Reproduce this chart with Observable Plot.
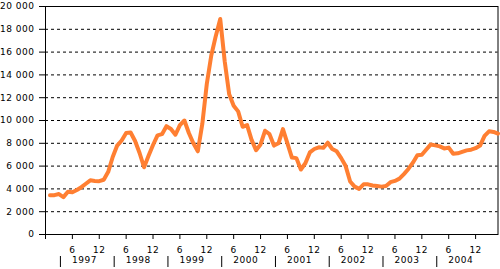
<!DOCTYPE html>
<html><head><meta charset="utf-8">
<script src="https://cdn.jsdelivr.net/npm/d3@7"></script>
<script src="https://cdn.jsdelivr.net/npm/@observablehq/plot@0.6"></script>
<style>html,body{margin:0;padding:0;background:#fff;}</style>
</head><body><div id="chart"></div>
<script>
// Monthly values, Jan 1997 .. May 2005
const values = [
  3450, 3450, 3550, 3280, 3750, 3700, 3900, 4150, 4450, 4750, 4700, 4680,
  4800, 5500, 6800, 7800, 8250, 8900, 8950, 8200, 7150, 5900, 6900, 7850,
  8700, 8800, 9500, 9250, 8750, 9600, 10000, 8900, 8000, 7300, 9700, 13200,
  15700, 17400, 18900, 15200, 12300, 11300, 10800, 9450, 9600, 8300, 7400, 7900,
  9100, 8800, 7800, 8000, 9250, 8000, 6750, 6700, 5700, 6250, 7200, 7500,
  7650, 7600, 8050, 7500, 7300, 6700, 6000, 4650, 4200, 4000, 4400, 4400,
  4300, 4250, 4200, 4250, 4590, 4700, 4900, 5300, 5750, 6300, 6950, 6990,
  7450, 7900, 7820, 7730, 7550, 7620, 7080, 7120, 7250, 7380, 7440, 7570,
  7800, 8650, 9050, 9000, 8850
];
const years = ["1997", "1998", "1999", "2000", "2001", "2002", "2003", "2004"];
const yTicks = [0, 2000, 4000, 6000, 8000, 10000, 12000, 14000, 16000, 18000, 20000];
const gridValues = [2000, 4000, 6000, 8000, 10000, 12000, 14000, 16000, 18000];
const monthTicks = [0, 6, 12, 18, 24, 30, 36, 42, 48, 54, 60, 66, 72, 78, 84, 90, 96];
const monthLabels = ["", "6", "12"];

const data = values.map((v, i) => ({m: i + 1, v}));
const sepPos = years.map((y, i) => 3.33 + 12 * i);
const labelPos = years.map((y, i) => 8.7 + 12 * i);
const fmt = d => d3.format(",")(d).replace(/,/g, " ");

const chart = Plot.plot({
  width: 500, height: 269,
  marginLeft: 45, marginRight: 2.5, marginTop: 6, marginBottom: 35,
  style: "font-family: 'DejaVu Sans'; font-size: 9px; letter-spacing: 0.5px; background: #fff; color: #000;",
  x: {domain: [0, 101]},
  y: {domain: [0, 20000]},
  marks: [
    Plot.ruleY(gridValues, {stroke: "#000", strokeDasharray: "3,3"}),
    Plot.frame({stroke: "#000"}),
    Plot.axisY({ticks: yTicks, tickFormat: fmt, tickSize: 6, tickPadding: 5, label: null}),
    Plot.axisX({ticks: monthTicks, tickFormat: m => m === 0 ? monthLabels[0] : (m % 12 === 0 ? monthLabels[2] : monthLabels[1]), tickSize: 5, tickPadding: 7, label: null}),
    Plot.axisX({ticks: sepPos, tickSize: 11, tickFormat: () => "", dy: 22, label: null}),
    Plot.text(years, {x: (d, i) => labelPos[i], text: d => d, frameAnchor: "bottom", dy: 28, fontSize: 9}),
    Plot.line(data, {x: "m", y: "v", stroke: "#ff7f32", strokeWidth: 4, strokeLinejoin: "round"})
  ]
});
document.getElementById("chart").appendChild(chart);
</script>
</body></html>
